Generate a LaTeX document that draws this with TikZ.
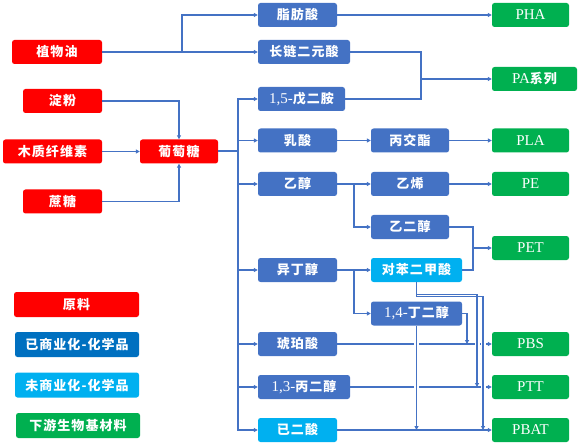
\documentclass[tikz,border=0pt]{standalone}
\usepackage{fontspec}
\setmainfont{Liberation Serif}
\newfontfamily\cjk[LetterSpace=8]{Noto Sans CJK SC}
\newcommand{\zh}[1]{{\cjk\bfseries\fontsize{13}{15}\selectfont #1}}
\usepackage{xcolor}
\usepackage{tikz}
\usetikzlibrary{arrows.meta, calc}

\definecolor{rawred}{HTML}{FF0000}
\definecolor{chemblue}{HTML}{4472C4}
\definecolor{legblue}{HTML}{0070C0}
\definecolor{newcyan}{HTML}{00B0F0}
\definecolor{prodgreen}{HTML}{00B050}
\definecolor{linkblue}{HTML}{4472C4}

\tikzset{
  box/.style={rounded corners=2.5pt, minimum height=24pt, inner sep=0pt, text=white,
    font=\fontsize{15}{17}\selectfont},
  raw/.style={box, fill=rawred},
  chem/.style={box, fill=chemblue},
  newchem/.style={box, fill=newcyan},
  product/.style={box, fill=prodgreen},
  link/.style={draw=linkblue, line width=1.1pt},
  arr/.style={link, -{Triangle[length=4pt,width=4pt]}},
}

\begin{document}
\begin{tikzpicture}[x=1pt, y=-1pt]
        \useasboundingbox (0,0) rectangle (580,446);

        % raw materials
        \node[raw, minimum width=90pt] (oil) at (57,52) {\zh{植物油}};
        \node[raw, minimum width=79pt] (starch) at (62.5,101) {\zh{淀粉}};
        \node[raw, minimum width=99pt] (lig) at (52.5,151.5) {\zh{木质纤维素}};
        \node[raw, minimum width=79pt] (suc) at (62.5,201.5) {\zh{蔗糖}};
        \node[raw, minimum width=78pt] (glu) at (179,151.5) {\zh{葡萄糖}};

        % legend
        \node[raw, minimum width=125pt, minimum height=25pt] (legraw) at (76.5,304.5) {\zh{原料}};
        \node[box, fill=legblue, minimum width=124pt, minimum height=25pt] (legchem) at (77,344.5) {\zh{已商业化-化学品}};
        \node[newchem, minimum width=124pt, minimum height=25pt] (legnew) at (77,385) {\zh{未商业化-化学品}};
        \node[product, minimum width=124pt, minimum height=25pt] (legprod) at (78,425.5) {\zh{下游生物基材料}};

        % chemicals
        \node[chem, minimum width=79pt] (fa) at (297.5,15) {\zh{脂肪酸}};
        \node[chem, minimum width=92pt] (lcda) at (304,52) {\zh{长链二元酸}};
        \node[chem, minimum width=87pt] (pda) at (301.5,99) {1,5-\zh{戊二胺}};
        \node[chem, minimum width=79pt] (lac) at (297.5,140.5) {\zh{乳酸}};
        \node[chem, minimum width=79pt] (eth) at (297.5,184) {\zh{乙醇}};
        \node[chem, minimum width=79pt] (iba) at (297.5,270) {\zh{异丁醇}};
        \node[chem, minimum width=79pt] (sa) at (297.5,344) {\zh{琥珀酸}};
        \node[chem, minimum width=92pt] (pdo) at (304,387) {1,3-\zh{丙二醇}};
        \node[newchem, minimum width=79pt] (aa) at (297.5,430) {\zh{已二酸}};

        \node[chem, minimum width=78pt] (lactide) at (410,140.5) {\zh{丙交酯}};
        \node[chem, minimum width=78pt] (ethylene) at (410,184) {\zh{乙烯}};
        \node[chem, minimum width=78pt] (eg) at (410,227) {\zh{乙二醇}};
        \node[newchem, minimum width=91pt] (pta) at (416.5,270) {\zh{对苯二甲酸}};
        \node[chem, minimum width=91pt] (bdo) at (416.5,313.5) {1,4-\zh{丁二醇}};

        % products
        \node[product, minimum width=77pt] (pha) at (530.5,15) {PHA};
        \node[product, minimum width=85pt] (pa) at (534.5,79) {PA\zh{系列}};
        \node[product, minimum width=77pt] (pla) at (530.5,140.5) {PLA};
        \node[product, minimum width=77pt] (pe) at (530.5,184) {PE};
        \node[product, minimum width=77pt] (pet) at (530.5,248) {PET};
        \node[product, minimum width=77pt] (pbs) at (530.5,344) {PBS};
        \node[product, minimum width=77pt] (ptt) at (530.5,387) {PTT};
        \node[product, minimum width=77pt] (pbat) at (530.5,430) {PBAT};

        \coordinate (oilfork) at (182,52);
        \coordinate (bus) at (238,151.5);
        \coordinate (pafork) at (421,79);
        \coordinate (ethfork) at (354,184);
        \coordinate (petfork) at (473,248);
        \coordinate (ibafork) at (354,270);
        \coordinate (bdo2pbs) at (467,344);
        \coordinate (bdo2pbat) at (416.5,430);
        \coordinate (pta2ptt) at (477,387);
        \coordinate (pta2pbat) at (483,430);

        % feedstock to glucose
        \draw[arr] (oil.east) -- (lcda.west);
        \draw[arr] (oilfork) |- (fa.west);
        \draw[arr] (starch.east) -| (glu.north);
        \draw[arr] (lig.east) -- (glu.west);
        \draw[arr] (suc.east) -| (glu.south);

        % glucose bus
        \draw[link, line width=2pt] (glu.east) -- (bus);
        \foreach \n in {pda,lac,eth,iba,sa,pdo,aa}
          \draw[arr] (bus) |- (\n.west);

        % upper routes
        \draw[arr] (fa) -- (pha);
        \draw[link] (lcda.east) -| (pafork);
        \draw[link] (pda.east) -| (pafork);
        \draw[arr] (pafork) -- (pa.west);
        \draw[arr] (lac) -- (lactide);
        \draw[arr] (lactide) -- (pla);
        \draw[arr] (eth) -- (ethylene);
        \draw[arr] (ethfork) |- (eg.west);
        \draw[arr] (ethylene) -- (pe);
        \draw[link] (eg.east) -| (petfork);
        \draw[link] (pta.east) -| (petfork);
        \draw[arr] (petfork) -- (pet.west);
        \draw[arr] (iba) -- (pta);
        \draw[arr] (ibafork) |- (bdo.west);

        % lower routes
        \draw[arr] (sa) -- (pbs);
        \draw[arr] (pdo) -- (ptt);
        \draw[arr] (aa) -- (pbat);

        % line jumps
        \foreach \v/\h in {bdo.south/pbs, bdo.south/ptt, pta2ptt/pbs, pta2pbat/pbs, pta2pbat/ptt}
          \fill[white] ($(\v |- \h.west)+(-2.5,-2)$) rectangle ++(5,4);

        \draw[arr] (bdo.east) -| (bdo2pbs);
        \draw[arr] (bdo.south) -- (bdo2pbat);
        \draw[arr] (pta.south) -- ++(0,12) -| (pta2ptt);
        \draw[arr] (pta.south) -- ++(0,14) -| (pta2pbat);
      \end{tikzpicture}
\end{document}
